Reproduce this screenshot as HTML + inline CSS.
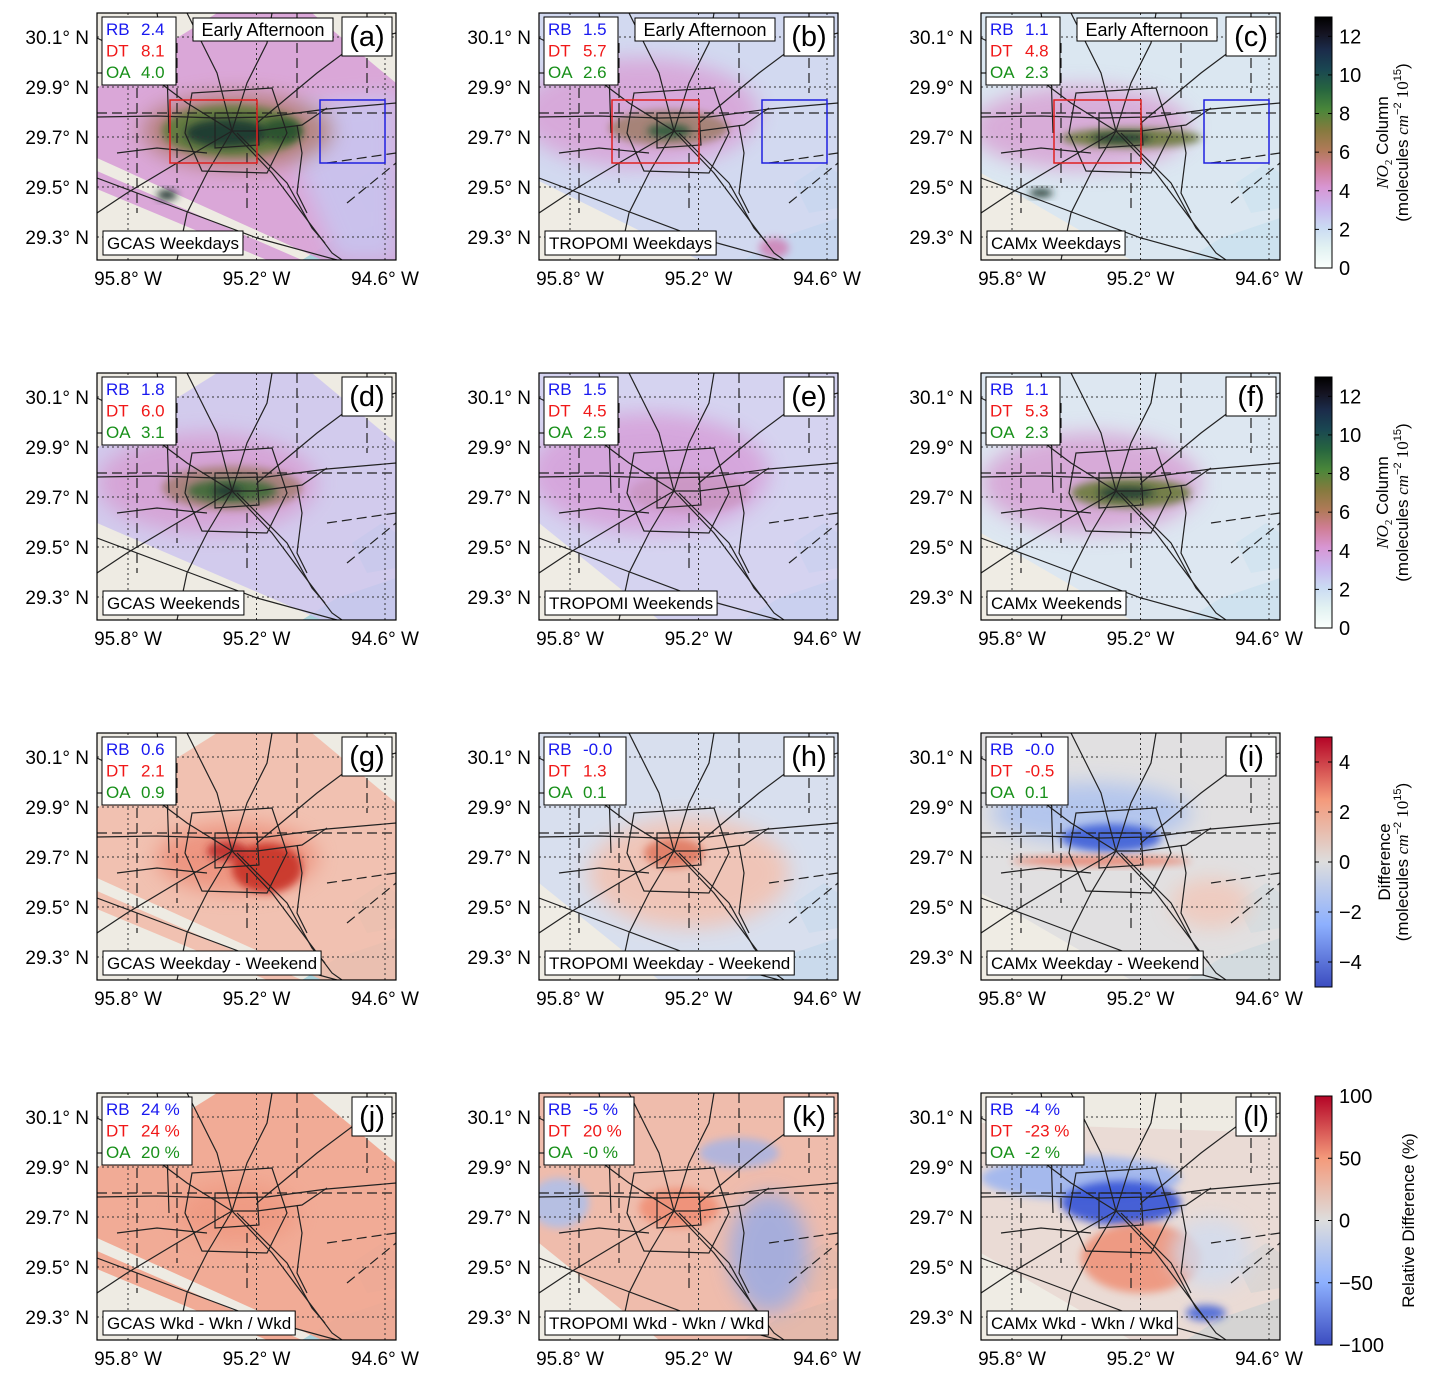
<!DOCTYPE html>
<html><head><meta charset="utf-8"><style>
html,body{margin:0;padding:0;background:#fff;}
svg text{font-family:"Liberation Sans","DejaVu Sans",sans-serif;}
</style></head><body>
<svg id="fig" width="1431" height="1379" viewBox="0 0 1431 1379" xmlns="http://www.w3.org/2000/svg">
<defs>
<filter id="b4" x="-50%" y="-50%" width="200%" height="200%"><feGaussianBlur stdDeviation="4"/></filter>
<filter id="b10" x="-50%" y="-50%" width="200%" height="200%"><feGaussianBlur stdDeviation="10"/></filter>
<linearGradient id="cbNO2" x1="0" y1="1" x2="0" y2="0">
<stop offset="0" stop-color="#fbfffd"/><stop offset="0.08" stop-color="#e2f2f2"/><stop offset="0.16" stop-color="#cadbf3"/>
<stop offset="0.24" stop-color="#c9b6ee"/><stop offset="0.32" stop-color="#d896d4"/><stop offset="0.40" stop-color="#cf7d93"/>
<stop offset="0.47" stop-color="#b07a58"/><stop offset="0.55" stop-color="#857a3e"/><stop offset="0.63" stop-color="#4a873a"/>
<stop offset="0.71" stop-color="#27663f"/><stop offset="0.79" stop-color="#1a4752"/><stop offset="0.87" stop-color="#1b2b4a"/>
<stop offset="0.94" stop-color="#14121f"/><stop offset="1" stop-color="#000"/></linearGradient>
<linearGradient id="cbDiff" x1="0" y1="1" x2="0" y2="0">
<stop offset="0" stop-color="#3b4cc0"/><stop offset="0.25" stop-color="#8db0fe"/><stop offset="0.5" stop-color="#dddddd"/>
<stop offset="0.75" stop-color="#f49a7b"/><stop offset="1" stop-color="#b40426"/></linearGradient>
</defs>
<g id="panels"></g>
<g id="cbars"></g>
</svg>
<script>
// ---- data ----
const panelLabels = ['(a)','(b)','(c)','(d)','(e)','(f)','(g)','(h)','(i)','(j)','(k)','(l)'];
const panelTitles = ['GCAS Weekdays','TROPOMI Weekdays','CAMx Weekdays','GCAS Weekends','TROPOMI Weekends','CAMx Weekends',
 'GCAS Weekday - Weekend','TROPOMI Weekday - Weekend','CAMx Weekday - Weekend','GCAS Wkd - Wkn / Wkd','TROPOMI Wkd - Wkn / Wkd','CAMx Wkd - Wkn / Wkd'];
const statRB = ['2.4','1.5','1.1','1.8','1.5','1.1','0.6','-0.0','-0.0','24 %','-5 %','-4 %'];
const statDT = ['8.1','5.7','4.8','6.0','4.5','5.3','2.1','1.3','-0.5','24 %','20 %','-23 %'];
const statOA = ['4.0','2.6','2.3','3.1','2.5','2.3','0.9','0.1','0.1','20 %','-0 %','-2 %'];
const latTicks = [30.1, 29.9, 29.7, 29.5, 29.3];
const lonTicks = [-95.8, -95.2, -94.6];
const cbTicksNO2 = [0,2,4,6,8,10,12];
const cbTicksDiff = [-4,-2,0,2,4];
const cbTicksRel = [-100,-50,0,50,100];

// ---- geometry ----
const PW=299, PH=247, X0=97, Y0=13, DX=442, DY=360;
const lonPx = v => 31 + (v - (-95.8)) * (128.5/0.6);
const latPx = v => 24 + (30.1 - v) * (50/0.2);
const SVGNS='http://www.w3.org/2000/svg';
function el(tag, attrs, parent){const e=document.createElementNS(SVGNS,tag);for(const k in attrs)e.setAttribute(k,attrs[k]);if(parent)parent.appendChild(e);return e;}

const roads = [
 [[0,104],[60,103],[120,105],[170,104],[230,96],[299,90]],
 [[135,118],[175,160],[205,200],[235,240],[245,247]],
 [[135,118],[120,60],[100,20],[90,0]],
 [[135,118],[90,90],[50,60],[20,35],[0,25]],
 [[135,118],[80,150],[30,180],[0,200]],
 [[135,118],[160,118],[205,112],[230,95]],
 [[135,118],[150,70],[170,30],[175,0]],
 [[135,118],[110,160],[90,200],[80,247]],
 [[0,165],[80,195],[160,225],[240,247]],
 [[140,120],[190,170],[215,215],[228,230]],
 [[160,110],[220,60],[260,30],[299,20]],
 [[200,112],[205,140],[200,180],[210,200]],
 [[20,140],[60,135],[110,140]],
 [[60,0],[70,60],[72,120]]
];
const loop = [[118,100],[160,100],[162,132],[118,135]];
const belt = [[95,80],[175,75],[190,120],[170,160],[105,158],[88,120]];
const dashed = [
 [[0,100],[299,100]],[[40,60],[40,200]],[[80,30],[80,170]],[[200,0],[200,90]],
 [[250,190],[299,150]],[[0,60],[60,60]],[[150,140],[150,200]],[[270,0],[270,80]],[[230,150],[299,140]]
];

function swathPoly(g, col, op){
 el('polygon',{points:'0,75 120,0 215,0 299,70 299,247 225,247 0,145',fill:col,opacity:op},g);
 el('polygon',{points:'0,158 0,176 170,247 205,247',fill:col,opacity:op},g);
}
const panelFill = [
 g=>{swathPoly(g,'#d7a0d6',0.9);el('polygon',{points:'200,90 299,80 299,247 240,247 200,150',fill:'#c8c6f0',opacity:0.85,filter:'url(#b10)'},g);
  blob(g,140,118,95,38,'#b07a70',0.85,10);blob(g,135,118,70,26,'#5c7a3a',0.9,6);blob(g,130,120,42,14,'#1d3a33',0.95,4);blob(g,185,118,20,12,'#27502f',0.9,3);blob(g,70,182,10,5,'#203530',1,2);},
 g=>{el('polygon',{points:'0,0 299,0 299,247 0,247 0,170 0,0',fill:'#cdd6f2',opacity:0.85},g);el('polygon',{points:'0,168 0,247 160,247',fill:'#efece4'},g);
  blob(g,100,100,120,55,'#d8a4d8',0.9,10);blob(g,130,115,60,18,'#9a7a60',0.8,5);blob(g,130,118,22,7,'#2c5a3a',0.9,3);blob(g,235,235,15,10,'#d07ab0',0.8,4);},
 g=>{el('polygon',{points:'0,0 299,0 299,247 0,247',fill:'#d6e6f4',opacity:0.8},g);el('polygon',{points:'0,160 0,247 150,247',fill:'#efece4'},g);
  blob(g,100,115,110,42,'#d8a2d4',0.85,10);blob(g,150,125,70,10,'#6a7a3a',0.9,4);blob(g,140,125,30,5,'#1d3a30',0.9,2);blob(g,60,180,12,4,'#203a30',1,2);},
 g=>{el('polygon',{points:'0,75 120,0 215,0 299,70 299,247 225,247 0,150',fill:'#ccc6ef',opacity:0.85},g);
  blob(g,110,110,110,50,'#d6a0d4',0.9,10);blob(g,135,115,70,22,'#a07a6a',0.8,6);blob(g,135,118,45,12,'#3c6a38',0.9,4);blob(g,130,118,15,5,'#1a3030',0.9,2);},
 g=>{el('polygon',{points:'0,0 299,0 299,247 0,247',fill:'#d0cff2',opacity:0.85},g);el('polygon',{points:'0,150 0,247 120,247',fill:'#efece4'},g);
  blob(g,110,100,120,60,'#d6a2da',0.9,10);blob(g,150,120,60,20,'#c994c0',0.8,6);},
 g=>{el('polygon',{points:'0,0 299,0 299,247 0,247',fill:'#d8e6f4',opacity:0.8},g);el('polygon',{points:'0,160 0,247 150,247',fill:'#efece4'},g);
  blob(g,110,110,110,50,'#d6a0d4',0.85,10);blob(g,150,120,60,15,'#6a7a3a',0.9,4);blob(g,145,120,28,6,'#1d3a30',0.9,2);},
 g=>{swathPoly(g,'#f1bcab',0.9);blob(g,140,125,80,35,'#ec8a74',0.8,8);blob(g,170,135,35,25,'#c83028',0.9,5);blob(g,130,118,20,10,'#b82020',0.8,3);},
 g=>{el('polygon',{points:'0,0 299,0 299,247 0,247',fill:'#d2dcf0',opacity:0.8},g);el('polygon',{points:'0,150 0,247 120,247',fill:'#efece4'},g);
  blob(g,150,140,100,55,'#f2c2b2',0.9,10);blob(g,135,120,30,15,'#e07a62',0.9,4);},
 g=>{el('polygon',{points:'0,0 299,0 299,247 0,247',fill:'#dddde0',opacity:0.8},g);el('polygon',{points:'0,160 0,247 150,247',fill:'#efece4'},g);
  blob(g,110,80,100,30,'#a8bff0',0.8,8);blob(g,130,105,50,14,'#3c5ed8',0.9,4);blob(g,120,128,90,5,'#e8806a',0.9,2);blob(g,230,170,40,25,'#f2c6b8',0.8,8);},
 g=>{swathPoly(g,'#f0a891',0.95);blob(g,140,120,60,30,'#ef9a82',0.9,8);},
 g=>{el('polygon',{points:'0,0 299,0 299,247 0,247',fill:'#eeb4a2',opacity:0.85},g);el('polygon',{points:'0,150 0,247 120,247',fill:'#efece4'},g);
  blob(g,20,110,30,25,'#a8c0f0',0.8,6);blob(g,230,160,40,60,'#88a8f0',0.7,8);blob(g,200,60,40,15,'#99b2f0',0.7,6);blob(g,140,115,40,20,'#f08a70',0.8,5);},
 g=>{el('polygon',{points:'0,30 299,40 299,247 0,247',fill:'#e8d4cf',opacity:0.7},g);el('polygon',{points:'0,160 0,247 150,247',fill:'#efece4'},g);
  blob(g,100,85,100,22,'#9ab4f2',0.85,6);blob(g,140,110,60,22,'#3452d6',0.9,4);blob(g,160,165,60,35,'#ef8f74',0.85,6);blob(g,230,160,40,35,'#d0dcf0',0.8,8);blob(g,225,220,20,8,'#4060d8',0.85,3);}
];
function blob(g,cx,cy,rx,ry,c,o,b){el('ellipse',{cx,cy,rx,ry,fill:c,opacity:o,filter:b>=8?'url(#b10)':'url(#b4)'},g);}

const root=document.getElementById('panels');
for(let i=0;i<12;i++){
 const col=i%3,row=Math.floor(i/3);
 const px=X0+col*DX, py=Y0+row*DY;
 const g=el('g',{transform:`translate(${px},${py})`},root);
 
 
 const clipId='clip'+i;
 const cp=el('clipPath',{id:clipId},g);el('rect',{x:0,y:0,width:PW,height:PH},cp);
 const inner=el('g',{'clip-path':`url(#${clipId})`},g);
 el('rect',{x:0,y:0,width:PW,height:PH,fill:'#eeebe3'},inner);
 el('polygon',{points:'205,247 240,225 299,205 299,247',fill:'#a9d3dc'},inner);
 el('polygon',{points:'255,170 285,150 299,160 299,195 270,200',fill:'#a9d3dc',opacity:0.7},inner);
 const dl=el('g',{},inner);
 
 
 panelFill[i](dl);
 latTicks.forEach(v=>el('line',{x1:0,x2:PW,y1:latPx(v),y2:latPx(v),stroke:'#333','stroke-width':1,'stroke-dasharray':'2,3'},inner));
 lonTicks.forEach(v=>el('line',{y1:0,y2:PH,x1:lonPx(v),x2:lonPx(v),stroke:'#333','stroke-width':1,'stroke-dasharray':'2,3'},inner));
 const rg=el('g',{fill:'none',stroke:'#222','stroke-width':1.2},inner);
 
 
 roads.forEach(r=>el('polyline',{points:r.map(p=>p.join(',')).join(' ')},rg));
 el('polygon',{points:loop.map(p=>p.join(',')).join(' ')},rg);
 el('polygon',{points:belt.map(p=>p.join(',')).join(' ')},rg);
 dashed.forEach(r=>el('polyline',{points:r.map(p=>p.join(',')).join(' '),'stroke-dasharray':'10,5'},rg));
 if(row===0){
  const rb=el('rect',{x:73,y:87,width:87,height:63,fill:'none',stroke:'#e02020','stroke-width':1.5},inner);
  
  const bb=el('rect',{x:223,y:87,width:65,height:63,fill:'none',stroke:'#2020e0','stroke-width':1.5},inner);
  
 }
 el('rect',{x:0,y:0,width:PW,height:PH,fill:'none',stroke:'#000','stroke-width':1.2},g);
 const sb=el('g',{},g);
 
 
 const sw = row===3?(i===11?98:90):(row===2&&col>0?82:74);
 el('rect',{x:5,y:4,width:sw,height:68,fill:'#fff',stroke:'#000','stroke-width':1},sb);
 [['RB',statRB[i],'#1818f0'],['DT',statDT[i],'#f01818'],['OA',statOA[i],'#18901a']].forEach((s,k)=>{
  const t=el('text',{x:9,y:22+k*21.5,'font-size':17,fill:s[2]},sb);t.textContent=s[0];
  const t2=el('text',{x:44,y:22+k*21.5,'font-size':17,fill:s[2]},sb);t2.textContent=s[1];
 });
 const lb=el('g',{},g);
 
 
 const lw = (i===9||i===11)?40:50;
 el('rect',{x:PW-4-lw,y:4,width:lw,height:39,fill:'#fff',stroke:'#000','stroke-width':1},lb);
 const lt=el('text',{x:PW-4-lw/2,y:33,'font-size':29,'text-anchor':'middle',fill:'#000'},lb);lt.textContent=panelLabels[i];
 if(row===0){
  const eb=el('g',{},g);
  
  
  el('rect',{x:96,y:5,width:140,height:23,fill:'#fff',stroke:'#000','stroke-width':1},eb);
  const et=el('text',{x:166,y:23,'font-size':18,'text-anchor':'middle'},eb);et.textContent='Early Afternoon';
 }
 const tb=el('g',{},g);
 
 
 const tt=el('text',{x:10,y:236,'font-size':17},tb);tt.textContent=panelTitles[i];
 root.appendChild(tb);tb.setAttribute('transform',`translate(${px},${py})`);
 const bw=tt.getComputedTextLength();
 const tr=el('rect',{x:6,y:218,width:bw+8,height:24,fill:'#fff',stroke:'#000','stroke-width':1});
 tb.insertBefore(tr,tt);
 latTicks.forEach(v=>{
  const t=el('text',{x:px-8,y:py+latPx(v)+7,'font-size':19,'text-anchor':'end'},root);
  
  
  t.textContent=v.toFixed(1)+'° N';
 });
 lonTicks.forEach(v=>{
  const t=el('text',{x:px+lonPx(v),y:py+PH+25,'font-size':19,'text-anchor':'middle'},root);
  
  
  t.textContent=Math.abs(v).toFixed(1)+'° W';
 });
}

const cbr=document.getElementById('cbars');
function colorbar(top,bot,grad,ticks,vmin,vmax,lines,name){
 const g=el('g',{},cbr);
 
 
 el('rect',{x:1315,y:top,width:17,height:bot-top,fill:`url(#${grad})`,stroke:'#000','stroke-width':1},g);
 const yv=v=>bot-(v-vmin)/(vmax-vmin)*(bot-top);
 ticks.forEach(v=>{
  el('line',{x1:1315,x2:1319,y1:yv(v),y2:yv(v),stroke:'#000'},g);
  el('line',{x1:1328,x2:1332,y1:yv(v),y2:yv(v),stroke:'#000'},g);
  const t=el('text',{x:1339,y:yv(v)+7,'font-size':20},g);
  
  
  t.textContent=(v<0?'\u2212'+Math.abs(v):String(v));
 });
 const cy=(top+bot)/2;
 lines.forEach((ln,k)=>{
  const t=el('text',{x:0,y:0,'font-size':17,'text-anchor':'middle',transform:`translate(${ln[0]},${cy}) rotate(-90)`},g);
  
  
  t.innerHTML=ln[1];
 });
}
const no2Lines=[[1388,'<tspan font-style="italic" font-family="Liberation Serif">NO</tspan><tspan font-size="11" dy="4" font-family="Liberation Serif">2</tspan><tspan dy="-4"> Column</tspan>'],
 [1408,'(molecules <tspan font-style="italic" font-family="Liberation Serif">cm</tspan><tspan font-size="11" dy="-7">−2</tspan><tspan dy="7" font-family="Liberation Serif"> 10</tspan><tspan font-size="11" dy="-7">15</tspan><tspan dy="7">)</tspan>']];
colorbar(17,268,'cbNO2',cbTicksNO2,0,13,no2Lines,'colorbar-no2-weekday');
colorbar(377,628,'cbNO2',cbTicksNO2,0,13,no2Lines,'colorbar-no2-weekend');
colorbar(737,987,'cbDiff',cbTicksDiff,-5,5,[[1390,'Difference'],[1408,no2Lines[1][1]]],'colorbar-difference');
colorbar(1096,1345,'cbDiff',cbTicksRel,-100,100,[[1414,'Relative Difference (%)']],'colorbar-relative');
</script>
</body></html>
